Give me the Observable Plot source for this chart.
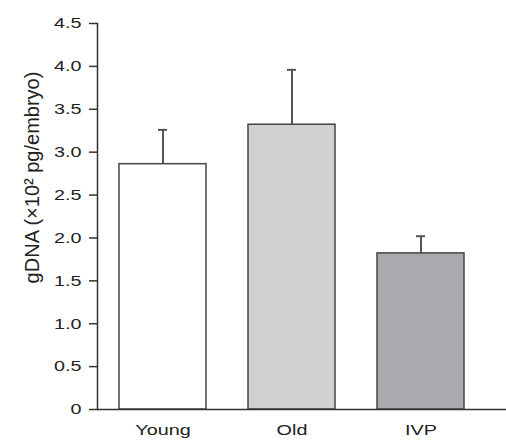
<!DOCTYPE html>
<html>
<head>
<meta charset="utf-8">
<script src="https://cdn.jsdelivr.net/npm/d3@7"></script>
<script src="https://cdn.jsdelivr.net/npm/@observablehq/plot@0.6"></script>
<style>
  html, body { margin: 0; padding: 0; background: #fff; overflow: hidden; }
  svg { display: block; }
</style>
</head>
<body>
<div id="chart"></div>
<script>
const groups = ["Young", "Old", "IVP"];
const means = [2.86, 3.32, 1.82];
const errUpper = [3.26, 3.96, 2.02];
const fills = ["#ffffff", "#d0d1d3", "#a9aaae"];
const yTicks = [0, 0.5, 1.0, 1.5, 2.0, 2.5, 3.0, 3.5, 4.0, 4.5];
const yLabel = "gDNA (×10² pg/embryo)";

const data = groups.map((g, i) => ({group: g, mean: means[i], hi: errUpper[i], fill: fills[i]}));

const chart = Plot.plot({
  width: 506,
  height: 441,
  marginLeft: 97,
  marginRight: 0,
  marginTop: 23,
  marginBottom: 32,
  style: {fontFamily: "'Liberation Sans', Arial, sans-serif", fontSize: "15px", color: "#222", background: "#fff"},
  x: {domain: groups, range: [75.5, 506.5], padding: 0.328, label: null},
  y: {domain: [0, 4.5], label: null},
  marks: [
    Plot.ruleX(data, {x: "group", y1: "mean", y2: "hi", stroke: "#555", strokeWidth: 2}),
    Plot.tickY(data, {x: "group", y: "hi", stroke: "#555", strokeWidth: 2, inset: 39}),
    Plot.barY(data, {x: "group", y: "mean", fill: "fill", stroke: "#444", strokeWidth: 1.5}),
    Plot.axisY({ticks: yTicks, tickFormat: d => d === 0 ? "0" : d.toFixed(1), tickSize: 8, tickPadding: 8, stroke: "#333", strokeWidth: 1.5, fontSize: 15, label: null}),
    Plot.frame({anchor: "left", stroke: "#333", strokeWidth: 1.5}),
    Plot.axisX({tickSize: 0, tickPadding: 15, fontSize: 15, label: null}),
    Plot.ruleY([0], {stroke: "#333", strokeWidth: 1.5}),
    Plot.text([yLabel], {frameAnchor: "left", textAnchor: "middle", text: d => d, rotate: -90, dx: -65, dy: -39, fontSize: 20, fill: "#222"})
  ]
});
document.getElementById("chart").appendChild(chart);
// the reference's tick labels are drawn wider than the font's natural width
chart.querySelectorAll('[aria-label="y-axis tick label"] text, [aria-label="x-axis tick label"] text').forEach(t => {
  const L = t.getComputedTextLength();
  t.setAttribute("textLength", (L * 1.32).toFixed(1));
  t.setAttribute("lengthAdjust", "spacingAndGlyphs");
});
</script>
</body>
</html>
